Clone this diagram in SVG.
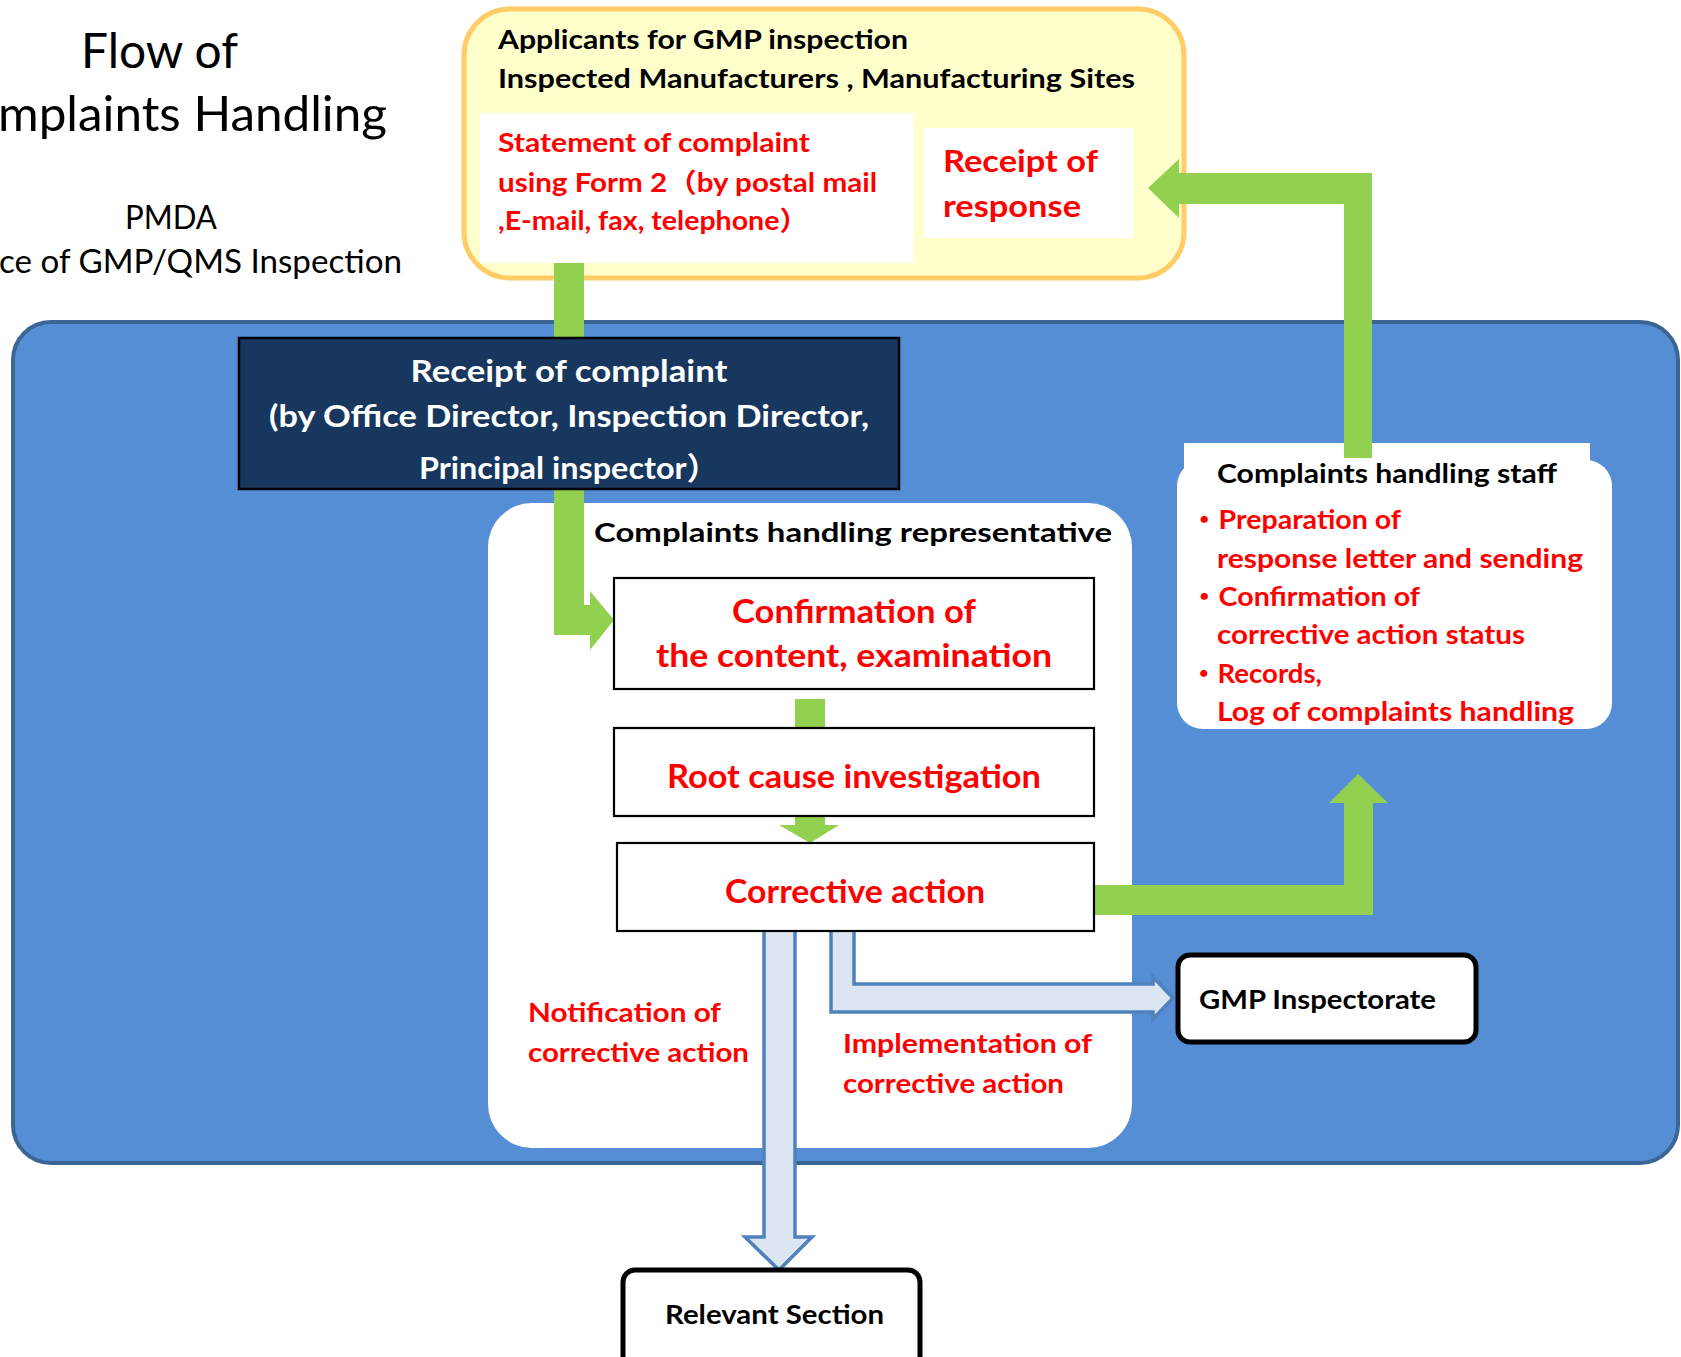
<svg xmlns="http://www.w3.org/2000/svg" width="1681" height="1357" viewBox="0 0 1681 1357">
<style>
text{font-family:Lato,"Liberation Sans","Noto Sans CJK JP",sans-serif;}
.red{fill:#FF0000;font-weight:bold;}
.blk{fill:#000;font-weight:bold;}
.wht{fill:#FFFFFF;font-weight:bold;}
.ttl{fill:#000;font-weight:normal;}
.green{fill:#92D050;}
.hollow{fill:#DCE6F2;stroke:#4F81BD;stroke-width:3.5;stroke-linejoin:miter;}
.box{fill:#FFFFFF;stroke:#000;stroke-width:2.2;}
.tbox{fill:#FFFFFF;stroke:#000;stroke-width:5;}
</style>

<g id="title">
<text class="ttl" x="81" y="68" font-size="48" textLength="157" lengthAdjust="spacingAndGlyphs">Flow of</text>
<text class="ttl" x="-2" y="131" font-size="48" textLength="389" lengthAdjust="spacingAndGlyphs">mplaints Handling</text>
<text class="ttl" x="125" y="229" font-size="32" textLength="92" lengthAdjust="spacingAndGlyphs">PMDA</text>
<text class="ttl" x="-1" y="273" font-size="32" textLength="403" lengthAdjust="spacingAndGlyphs">ce of GMP/QMS Inspection</text>
</g>

<g id="applicants">
<rect x="464" y="9" width="720" height="269" rx="46" fill="#FFFFCC" stroke="#FFCC66" stroke-width="5"/>
<text class="blk" x="498" y="49" font-size="26.5" textLength="410" lengthAdjust="spacingAndGlyphs">Applicants for GMP inspection</text>
<text class="blk" x="498" y="88" font-size="26.5" textLength="637" lengthAdjust="spacingAndGlyphs">Inspected Manufacturers , Manufacturing Sites</text>
</g>

<g id="statement">
<rect x="480" y="113" width="434" height="150" fill="#FFFFFF"/>
<text class="red" x="498" y="152" font-size="26.5" textLength="312" lengthAdjust="spacingAndGlyphs">Statement of complaint</text>
<text class="red" x="498" y="192" font-size="26.5" textLength="379" lengthAdjust="spacingAndGlyphs">using Form 2（by postal mail</text>
<text class="red" x="498" y="230" font-size="26.5" textLength="310" lengthAdjust="spacingAndGlyphs">,E-mail, fax, telephone）</text>
</g>

<g id="receipt-response">
<rect x="924" y="128" width="209" height="110" fill="#FFFFFF"/>
<text class="red" x="943" y="172" font-size="31" textLength="155" lengthAdjust="spacingAndGlyphs">Receipt of</text>
<text class="red" x="943" y="217" font-size="31" textLength="138" lengthAdjust="spacingAndGlyphs">response</text>
</g>

<g id="pmda-office">
<rect x="13" y="322" width="1665" height="841" rx="38" fill="#558ED5" stroke="#3B6595" stroke-width="4"/>
</g>

<g id="representative">
<rect x="488" y="503" width="644" height="645" rx="44" fill="#FFFFFF"/>
<text class="blk" x="594" y="542" font-size="27" textLength="518" lengthAdjust="spacingAndGlyphs">Complaints handling representative</text>
</g>

<g id="staff">
<rect x="1177" y="460" width="435" height="269" rx="26" fill="#FFFFFF"/>
<rect x="1184" y="443" width="406" height="40" fill="#FFFFFF"/>
<text class="blk" x="1217" y="483" font-size="27" textLength="340" lengthAdjust="spacingAndGlyphs">Complaints handling staff</text>
<text class="red" x="1190" y="529" font-size="26.5" textLength="211" lengthAdjust="spacingAndGlyphs">・Preparation of</text>
<text class="red" x="1217" y="568" font-size="26.5" textLength="366" lengthAdjust="spacingAndGlyphs">response letter and sending</text>
<text class="red" x="1190" y="606" font-size="26.5" textLength="230" lengthAdjust="spacingAndGlyphs">・Confirmation of</text>
<text class="red" x="1217" y="644" font-size="26.5" textLength="308" lengthAdjust="spacingAndGlyphs">corrective action status</text>
<text class="red" x="1190" y="683" font-size="26.5" textLength="132" lengthAdjust="spacingAndGlyphs">・Records,</text>
<text class="red" x="1217" y="721" font-size="26.5" textLength="357" lengthAdjust="spacingAndGlyphs">Log of complaints handling</text>
</g>

<g id="connectors">
<path class="green" d="M554,263 H584 V605 H590 V591 L614,620 L590,650 V635 H554 Z"/>
<rect class="green" x="795" y="699" width="30" height="29"/>
<path class="green" d="M795,816 H825 V825 H839 L810,843 L779,825 H795 Z"/>
<path class="green" d="M1094,885 H1344 V803 H1329 L1358,774 L1388,803 H1373 V915 H1094 Z"/>
<path class="green" d="M1344,458 V204 H1179 V218 L1148,188 L1179,159 V173 H1372 V458 Z"/>
<path class="hollow" d="M764,931 V1237 H745 L779,1270 L812,1237 H795 V931"/>
<path class="hollow" d="M831,931 V1012 H1153 V1019 L1173,998 L1153,977 V984 H854 V931"/>
</g>

<g id="receipt-complaint">
<rect x="239" y="338" width="660" height="151" fill="#17375E" stroke="#000" stroke-width="2.5"/>
<text class="wht" x="569" y="382" font-size="31" text-anchor="middle" textLength="317" lengthAdjust="spacingAndGlyphs">Receipt of complaint</text>
<text class="wht" x="569" y="427" font-size="31" text-anchor="middle" textLength="600" lengthAdjust="spacingAndGlyphs">(by Office Director, Inspection Director,</text>
<text class="wht" x="569" y="479" font-size="31" text-anchor="middle" textLength="300" lengthAdjust="spacingAndGlyphs">Principal inspector）</text>
</g>

<g id="confirmation">
<rect class="box" x="614" y="578" width="480" height="111"/>
<text class="red" x="854" y="623" font-size="32" text-anchor="middle" textLength="244" lengthAdjust="spacingAndGlyphs">Confirmation of</text>
<text class="red" x="854" y="667" font-size="32" text-anchor="middle" textLength="396" lengthAdjust="spacingAndGlyphs">the content,  examination</text>
</g>

<g id="root-cause">
<rect class="box" x="614" y="728" width="480" height="88"/>
<text class="red" x="854" y="788" font-size="32" text-anchor="middle" textLength="374" lengthAdjust="spacingAndGlyphs">Root cause investigation</text>
</g>

<g id="corrective">
<rect class="box" x="617" y="843" width="477" height="88"/>
<text class="red" x="855" y="903" font-size="32" text-anchor="middle" textLength="260" lengthAdjust="spacingAndGlyphs">Corrective action</text>
</g>

<g id="labels">
<text class="red" x="528" y="1022" font-size="26.5" textLength="193" lengthAdjust="spacingAndGlyphs">Notification of</text>
<text class="red" x="528" y="1062" font-size="26.5" textLength="221" lengthAdjust="spacingAndGlyphs">corrective action</text>
<text class="red" x="843" y="1053" font-size="26.5" textLength="249" lengthAdjust="spacingAndGlyphs">Implementation of</text>
<text class="red" x="843" y="1093" font-size="26.5" textLength="221" lengthAdjust="spacingAndGlyphs">corrective action</text>
</g>

<g id="gmp-inspectorate">
<rect class="tbox" x="1178" y="955" width="298" height="87" rx="12"/>
<text class="blk" x="1199" y="1009" font-size="27" textLength="237" lengthAdjust="spacingAndGlyphs">GMP Inspectorate</text>
</g>

<g id="relevant-section">
<rect class="tbox" x="623" y="1270" width="297" height="110" rx="12"/>
<text class="blk" x="665" y="1324" font-size="27" textLength="219" lengthAdjust="spacingAndGlyphs">Relevant Section</text>
</g>
</svg>
